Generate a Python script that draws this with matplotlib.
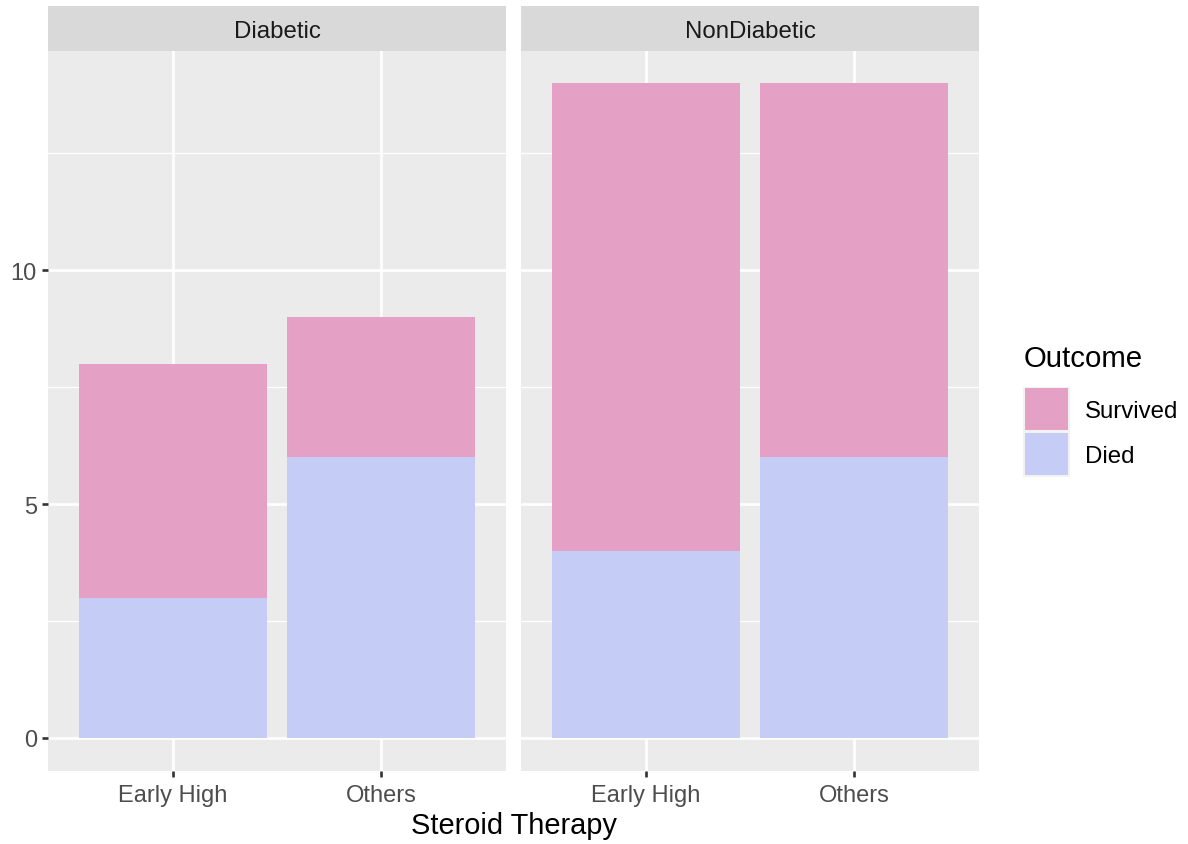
import matplotlib
matplotlib.use("Agg")
import matplotlib.pyplot as plt
from matplotlib.patches import Rectangle

plt.rcParams['font.family'] = ['Liberation Sans', 'DejaVu Sans']

facets = ["Diabetic", "NonDiabetic"]
therapies = ["Early High", "Others"]
died = {"Diabetic": [3, 6], "NonDiabetic": [4, 6]}
survived = {"Diabetic": [5, 3], "NonDiabetic": [10, 8]}
outcomes = ["Survived", "Died"]
colors = {"Survived": "#E5A1C5", "Died": "#C5CDF7"}
yticks = [0, 5, 10]
yminor = [2.5, 7.5, 12.5]

W, H = 1188, 845
fig = plt.figure(figsize=(W / 100, H / 100), dpi=100)

def fx(px):
    return px / W

def fy(py):
    return 1 - py / H

panel_x = [(48, 506), (521, 979)]
ptop, pbot = 51.5, 771.5
stop = 7

bg = "#EBEBEB"
for i, fac in enumerate(facets):
    x0, x1 = panel_x[i]
    ax = fig.add_axes([fx(x0), fy(pbot), fx(x1) - fx(x0), fy(ptop) - fy(pbot)])
    ax.set_facecolor(bg)
    ax.set_xlim(0.4, 2.6)
    ax.set_ylim(-0.7, 14.7)
    for s in ax.spines.values():
        s.set_visible(False)
    for y in yminor:
        ax.axhline(y, color="white", lw=0.9, zorder=0.5)
    for y in yticks:
        ax.axhline(y, color="white", lw=1.9, zorder=0.6)
    xs = [1, 2]
    for x in xs:
        ax.axvline(x, color="white", lw=1.9, zorder=0.6)
    ax.bar(xs, died[fac], width=0.9, color=colors["Died"], zorder=2)
    ax.bar(xs, survived[fac], width=0.9, bottom=died[fac], color=colors["Survived"], zorder=2)
    ax.set_xticks(xs)
    ax.set_xticklabels(therapies, fontsize=17, color="#4D4D4D")
    ax.tick_params(axis="x", length=4, width=1.9, color="#333333", pad=6)
    ax.set_yticks(yticks)
    if i == 0:
        ax.set_yticklabels([str(t) for t in yticks], fontsize=17, color="#4D4D4D")
        ax.tick_params(axis="y", length=4, width=1.9, color="#333333", pad=4)
    else:
        ax.tick_params(axis="y", length=0, labelleft=False)
    # strip
    sax = fig.add_axes([fx(x0), fy(ptop), fx(x1) - fx(x0), fy(stop) - fy(ptop)])
    sax.set_facecolor("#D9D9D9")
    sax.set_xticks([]); sax.set_yticks([])
    for s in sax.spines.values():
        s.set_visible(False)
    sax.text(0.5, 0.44, fac, ha="center", va="center", fontsize=17.3, color="#1A1A1A",
             transform=sax.transAxes)

fig.text(fx((48 + 979) / 2), fy(826), "Steroid Therapy", ha="center", va="center",
         fontsize=20.9, color="black")

# legend
fig.text(fx(1024), fy(359), "Outcome", ha="left", va="center", fontsize=21.2, color="black")
key_y = [387.5, 432.5]
for k, name in enumerate(outcomes):
    ky = key_y[k]
    fig.patches.append(Rectangle((fx(1023), fy(ky + 45)), fx(1070) - fx(1023), fy(ky) - fy(ky + 45),
                                 transform=fig.transFigure, facecolor="#F2F2F2", edgecolor="none"))
    fig.patches.append(Rectangle((fx(1025), fy(ky + 43)), fx(1068) - fx(1025), fy(ky + 1) - fy(ky + 43),
                                 transform=fig.transFigure, facecolor=colors[name], edgecolor="none"))
    fig.text(fx(1085), fy(ky + 25), name, ha="left", va="center", fontsize=17.3, color="black")

fig.savefig("out.png", dpi=100)
